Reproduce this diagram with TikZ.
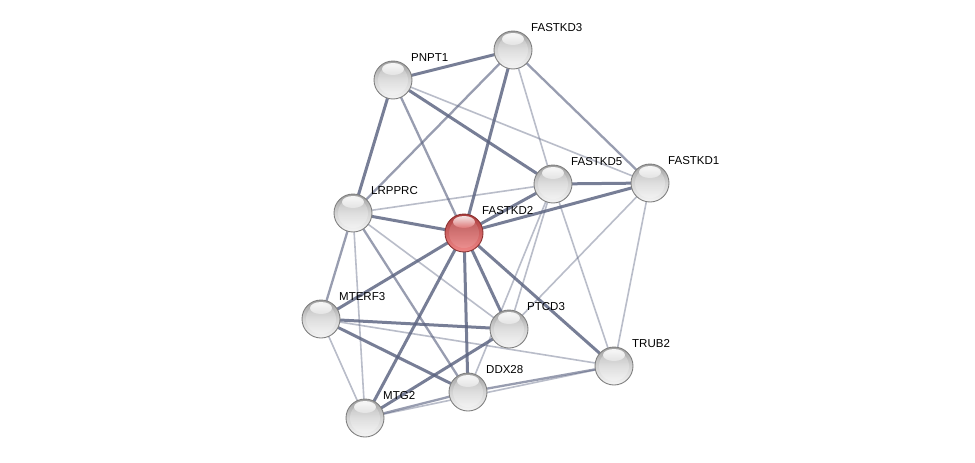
\documentclass[tikz,border=0pt]{standalone}
\usepackage{fontspec}
\setmainfont{Liberation Sans}
\begin{document}
\begin{tikzpicture}[x=1pt,y=-1pt,
  prot/.style={circle, minimum size=38pt, inner sep=0pt, draw=black!50, line width=0.9pt,
    top color=black!38, bottom color=black!4, middle color=black!17,
    path picture={
      \fill[white, opacity=0.25] (path picture bounding box.center) circle (15pt);
      \shade[top color=white, bottom color=white!60!black!25, opacity=0.9] ([yshift=-8pt]path picture bounding box.north) ellipse (11pt and 6pt);}},
  seed/.style={prot, draw={rgb,255:red,140;green,50;blue,50},
    top color={rgb,255:red,170;green,60;blue,60}, middle color={rgb,255:red,210;green,95;blue,95}, bottom color={rgb,255:red,240;green,135;blue,135},
    path picture={
      \fill[white, opacity=0.12] (path picture bounding box.center) circle (15pt);
      \shade[top color=white, bottom color={rgb,255:red,225;green,120;blue,120}, opacity=0.85] ([yshift=-8pt]path picture bounding box.north) ellipse (11pt and 6pt);}},
  lbl/.style={anchor=west, font=\fontsize{11.5}{13}\selectfont, inner sep=0pt},
  ethick/.style={draw={rgb,255:red,90;green,98;blue,128}, opacity=0.82, line width=3pt},
  emed/.style={draw={rgb,255:red,90;green,98;blue,128}, opacity=0.62, line width=2.3pt},
  ethin/.style={draw={rgb,255:red,90;green,98;blue,128}, opacity=0.42, line width=1.6pt},
]
\useasboundingbox (0,0) rectangle (975,463);
\fill[white] (0,0) rectangle (975,463);
% node positions
\coordinate (cFASTKD3) at (513,50);
\coordinate (cPNPT1) at (393,80);
\coordinate (cFASTKD5) at (553,184);
\coordinate (cFASTKD1) at (650,183);
\coordinate (cLRPPRC) at (353,213);
\coordinate (cFASTKD2) at (464,233);
\coordinate (cMTERF3) at (321,319);
\coordinate (cPTCD3) at (509,329);
\coordinate (cTRUB2) at (614,366);
\coordinate (cDDX28) at (468,392);
\coordinate (cMTG2) at (365,418);
% edges
\draw[ethick] (cPNPT1) -- (cFASTKD3);
\draw[ethick] (cPNPT1) -- (cLRPPRC);
\draw[ethick] (cFASTKD3) -- (cFASTKD2);
\draw[ethick] (cLRPPRC) -- (cFASTKD2);
\draw[ethick] (cFASTKD2) -- (cMTERF3);
\draw[ethick] (cFASTKD2) -- (cMTG2);
\draw[ethick] (cFASTKD2) -- (cDDX28);
\draw[ethick] (cFASTKD2) -- (cPTCD3);
\draw[ethick] (cFASTKD2) -- (cTRUB2);
\draw[ethick] (cFASTKD2) -- (cFASTKD1);
\draw[ethick] (cFASTKD2) -- (cFASTKD5);
\draw[ethick] (cFASTKD5) -- (cFASTKD1);
\draw[ethick] (cPNPT1) -- (cFASTKD5);
\draw[ethick] (cMTERF3) -- (cDDX28);
\draw[ethick] (cMTERF3) -- (cPTCD3);
\draw[ethick] (cMTG2) -- (cPTCD3);
\draw[emed] (cFASTKD3) -- (cLRPPRC);
\draw[emed] (cFASTKD3) -- (cFASTKD1);
\draw[emed] (cPNPT1) -- (cFASTKD2);
\draw[emed] (cLRPPRC) -- (cMTERF3);
\draw[emed] (cLRPPRC) -- (cDDX28);
\draw[emed] (cMTG2) -- (cDDX28);
\draw[emed] (cDDX28) -- (cTRUB2);
\draw[ethin] (cFASTKD3) -- (cFASTKD5);
\draw[ethin] (cFASTKD5) -- (cTRUB2);
\draw[ethin] (cPNPT1) -- (cFASTKD1);
\draw[ethin] (cLRPPRC) -- (cFASTKD5);
\draw[ethin] (cLRPPRC) -- (cMTG2);
\draw[ethin] (cLRPPRC) -- (cPTCD3);
\draw[ethin] (cFASTKD5) -- (cPTCD3);
\draw[ethin] (cFASTKD5) -- (cDDX28);
\draw[ethin] (cFASTKD1) -- (cPTCD3);
\draw[ethin] (cFASTKD1) -- (cTRUB2);
\draw[ethin] (cMTERF3) -- (cTRUB2);
\draw[ethin] (cMTERF3) -- (cMTG2);
\draw[ethin] (cMTG2) -- (cTRUB2);
% nodes
\node[prot] (FASTKD3) at (cFASTKD3) {};
\node[prot] (PNPT1) at (cPNPT1) {};
\node[prot] (FASTKD5) at (cFASTKD5) {};
\node[prot] (FASTKD1) at (cFASTKD1) {};
\node[prot] (LRPPRC) at (cLRPPRC) {};
\node[seed] (FASTKD2) at (cFASTKD2) {};
\node[prot] (MTERF3) at (cMTERF3) {};
\node[prot] (PTCD3) at (cPTCD3) {};
\node[prot] (TRUB2) at (cTRUB2) {};
\node[prot] (DDX28) at (cDDX28) {};
\node[prot] (MTG2) at (cMTG2) {};
% labels
\node[lbl] (lFASTKD3) at ([shift={(18,-22)}]cFASTKD3) {FASTKD3};
\node[lbl] (lPNPT1) at ([shift={(18,-22)}]cPNPT1) {PNPT1};
\node[lbl] (lFASTKD5) at ([shift={(18,-22)}]cFASTKD5) {FASTKD5};
\node[lbl] (lFASTKD1) at ([shift={(18,-22)}]cFASTKD1) {FASTKD1};
\node[lbl] (lLRPPRC) at ([shift={(18,-22)}]cLRPPRC) {LRPPRC};
\node[lbl] (lFASTKD2) at ([shift={(18,-22)}]cFASTKD2) {FASTKD2};
\node[lbl] (lMTERF3) at ([shift={(18,-22)}]cMTERF3) {MTERF3};
\node[lbl] (lPTCD3) at ([shift={(18,-22)}]cPTCD3) {PTCD3};
\node[lbl] (lTRUB2) at ([shift={(18,-22)}]cTRUB2) {TRUB2};
\node[lbl] (lDDX28) at ([shift={(18,-22)}]cDDX28) {DDX28};
\node[lbl] (lMTG2) at ([shift={(18,-22)}]cMTG2) {MTG2};
\end{tikzpicture}
\end{document}
